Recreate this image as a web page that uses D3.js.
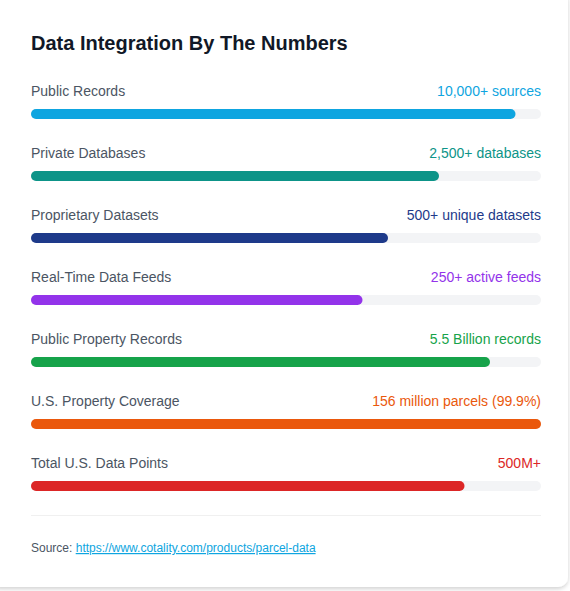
<!DOCTYPE html>
<html>
<head>
<meta charset="UTF-8">
<script src="https://d3js.org/d3.v7.min.js"></script>
<style>
  body { margin:0; background:#fff; font-family:"Liberation Sans", Arial, sans-serif; }
</style>
</head>
<body>
<svg id="chart" width="570" height="591"></svg>
<script>
const labels = ["Public Records","Private Databases","Proprietary Datasets","Real-Time Data Feeds","Public Property Records","U.S. Property Coverage","Total U.S. Data Points"];
const valueText = ["10,000+ sources","2,500+ databases","500+ unique datasets","250+ active feeds","5.5 Billion records","156 million parcels (99.9%)","500M+"];
const percents = [95, 80, 70, 65, 90, 100, 85];
const colors = ["#0ea5e0","#0d9488","#1e3a8a","#9333ea","#16a34a","#ea580c","#dc2626"];

const svg = d3.select("#chart");
const defs = svg.append("defs");
const f = defs.append("filter").attr("id","sh").attr("x","-5%").attr("y","-5%").attr("width","110%").attr("height","110%");
f.append("feDropShadow").attr("dx",0).attr("dy",2).attr("stdDeviation",2).attr("flood-color","#000").attr("flood-opacity",0.18);

svg.append("rect").attr("x",-10).attr("y",-10).attr("width",578).attr("height",597)
  .attr("rx",10).attr("fill","#fff").attr("filter","url(#sh)");

svg.append("text").attr("x",31).attr("y",50).text("Data Integration By The Numbers")
  .attr("font-size",20).attr("font-weight","bold").attr("fill","#111827");

const x = d3.scaleLinear().domain([0,100]).range([31,541]);
const y = d3.scaleBand().domain(labels).range([82,516]);

const row = svg.selectAll("g.row").data(labels).join("g").attr("class","row")
  .attr("transform", d => `translate(0,${y(d)})`);

row.append("text").attr("x",31).attr("y",14).text(d => d)
  .attr("font-size",14).attr("fill","#4b5563");
row.append("text").attr("x",541).attr("y",14).attr("text-anchor","end").text((d,i) => valueText[i])
  .attr("font-size",14).attr("fill",(d,i) => colors[i]);
row.append("rect").attr("x",31).attr("y",27).attr("width",x(100)-x(0)).attr("height",10).attr("rx",5).attr("fill","#f3f4f6");
row.append("rect").attr("x",31).attr("y",27).attr("width",(d,i) => x(percents[i])-x(0)).attr("height",10).attr("rx",5)
  .attr("fill",(d,i) => colors[i]);

svg.append("line").attr("x1",31).attr("x2",541).attr("y1",515.5).attr("y2",515.5).attr("stroke","#f0f0f0");

const src = svg.append("text").attr("x",31).attr("y",552).attr("font-size",12);
src.append("tspan").text("Source: ").attr("fill","#4b5563");
src.append("tspan").text("https://www.cotality.com/products/parcel-data").attr("fill","#0ea5e0").attr("text-decoration","underline");
</script>
</body>
</html>
